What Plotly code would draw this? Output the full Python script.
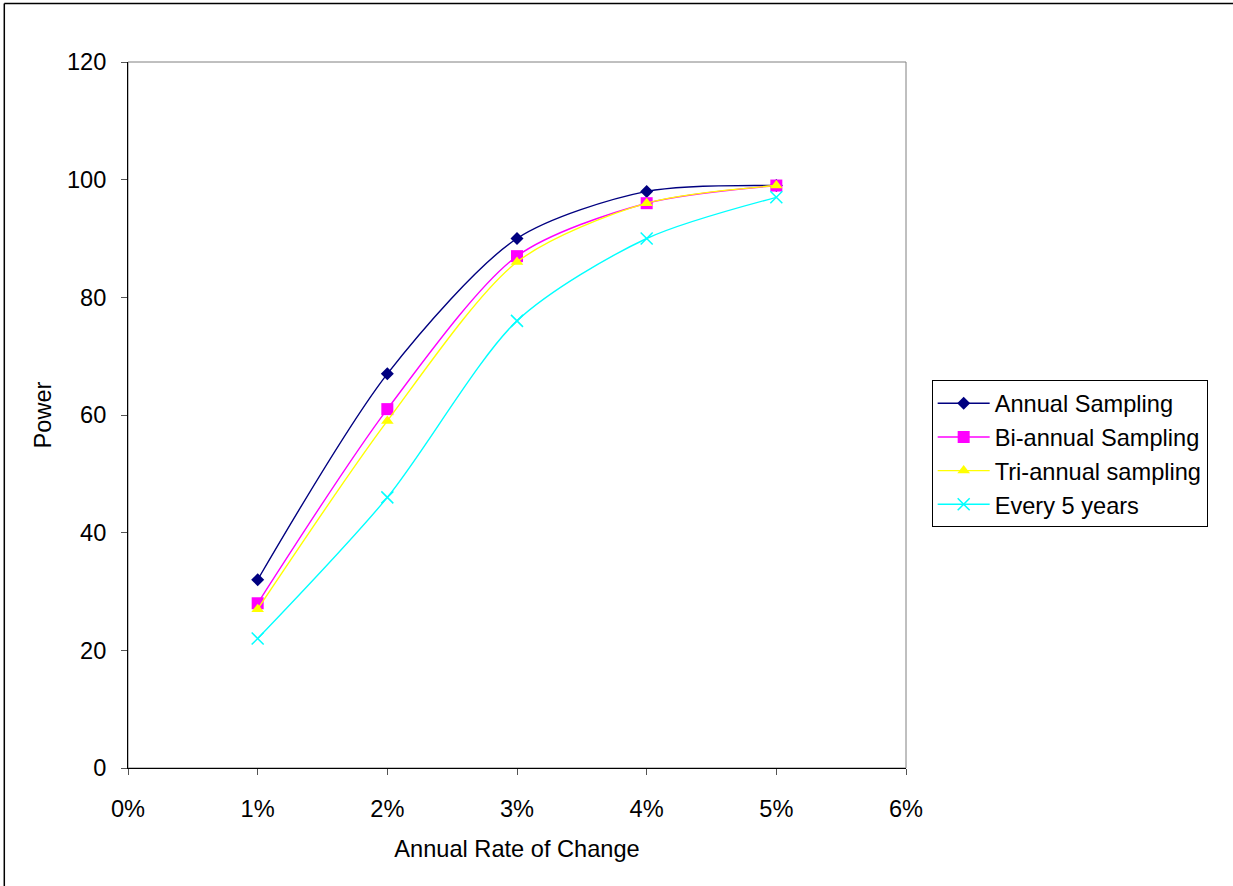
import plotly.graph_objects as go

# Annual rate of change (as fractions) and statistical power for each sampling scheme
rates = [0.01, 0.02, 0.03, 0.04, 0.05]
annual = [32, 67, 90, 98, 99]
bi_annual = [28, 61, 87, 96, 99]
tri_annual = [27, 59, 86, 96, 99]
every_5_years = [22, 46, 76, 90, 97]

series = [
    ("Annual Sampling", annual, "#000080", "diamond", 10),
    ("Bi-annual Sampling", bi_annual, "#FF00FF", "square", 12),
    ("Tri-annual sampling", tri_annual, "#FFFF00", "triangle-up", 11),
    ("Every 5 years", every_5_years, "#00FFFF", "x-thin", 12),
]

fig = go.Figure()
for name, vals, color, symbol, size in series:
    marker = dict(symbol=symbol, size=size, color=color)
    if symbol == "x-thin":
        marker["line"] = dict(color=color, width=1.5)
    fig.add_trace(go.Scatter(
        x=rates, y=vals, name=name, mode="lines+markers",
        line=dict(color=color, width=1.4, shape="spline", smoothing=0.8),
        marker=marker,
    ))

font_family = "Liberation Sans, Arial, sans-serif"
fs = 23.6

fig.update_layout(
    width=1233, height=886,
    margin=dict(l=128, r=327, t=62, b=118),
    paper_bgcolor="white", plot_bgcolor="white",
    font=dict(family=font_family, size=fs, color="black"),
    showlegend=True,
    legend=dict(
        x=1.033, y=0.549, xanchor="left", yanchor="top",
        bordercolor="black", borderwidth=1, bgcolor="white",
        font=dict(size=fs), tracegroupgap=0, itemwidth=52,
    ),
    xaxis=dict(
        range=[0, 0.06], dtick=0.01, tickformat=".0%",
        showgrid=False, zeroline=False,
        showline=True, linecolor="black", linewidth=1,
        ticks="outside", ticklen=6, tickcolor="#555555",
        ticklabelstandoff=14,
        title=dict(text="Annual Rate of Change", standoff=19, font=dict(size=fs)),
    ),
    yaxis=dict(
        range=[0, 120], dtick=20,
        showgrid=False, zeroline=False,
        showline=True, linecolor="black", linewidth=1,
        ticks="outside", ticklen=6, tickcolor="#555555",
        ticklabelstandoff=10,
        title=dict(text="Power", standoff=8, font=dict(size=fs)),
    ),
    shapes=[
        # plot-area frame (top/right edges in gray)
        dict(type="rect", xref="paper", yref="paper", x0=0, y0=0, x1=1, y1=1,
             line=dict(color="#808080", width=1), layer="below"),
        # outer chart border: top and left edges, kept inside the figure
        dict(type="line", xref="paper", yref="paper",
             x0=-0.159, y0=1.083, x1=1.4203, y1=1.083,
             line=dict(color="black", width=1.5), layer="below"),
        dict(type="line", xref="paper", yref="paper",
             x0=-0.159, y0=-0.167, x1=-0.159, y1=1.083,
             line=dict(color="black", width=1.5), layer="below"),
    ],
)

fig.write_html("out.html")
